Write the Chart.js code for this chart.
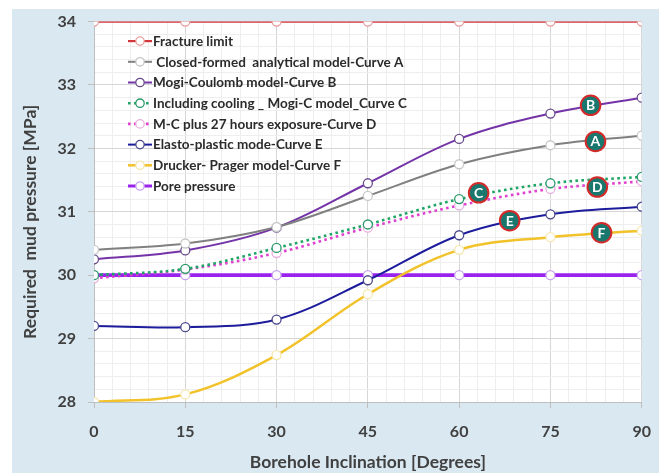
<!DOCTYPE html>
<html>
<head>
<meta charset="utf-8">
<script src="https://cdn.jsdelivr.net/npm/chart.js@4.4.1/dist/chart.umd.min.js"></script>
<style>
  html, body { margin: 0; padding: 0; background: #ffffff; }
  #wrap { width: 665px; height: 473px; position: relative; }
</style>
</head>
<body>
<div id="wrap"><canvas id="chart"></canvas></div>
<script>
// Borehole inclination (degrees) and required mud pressure (MPa) per model
const inclination   = [0, 15, 30, 45, 60, 75, 90];
const fractureLimit = [34, 34, 34, 34, 34, 34, 34];
const curveA        = [30.40, 30.50, 30.76, 31.25, 31.75, 32.05, 32.20];
const curveB        = [30.25, 30.39, 30.75, 31.45, 32.15, 32.55, 32.80];
const curveC        = [30.00, 30.10, 30.43, 30.80, 31.20, 31.45, 31.55];
const curveD        = [29.95, 30.09, 30.35, 30.75, 31.10, 31.36, 31.48];
const curveE        = [29.20, 29.18, 29.30, 29.92, 30.63, 30.96, 31.08];
const curveF        = [28.00, 28.12, 28.74, 29.70, 30.40, 30.60, 30.70];
const porePressure  = [30, 30, 30, 30, 30, 30, 30];

const seriesNames = [
  'Fracture limit',
  ' Closed-formed  analytical model-Curve A',
  'Mogi-Coulomb model-Curve B',
  'Including cooling _ Mogi-C model_Curve C',
  'M-C plus 27 hours exposure-Curve D',
  'Elasto-plastic mode-Curve E',
  'Drucker- Prager model-Curve F',
  'Pore pressure'
];

// Curve tags placed along the curves (inclination, pressure)
const tagLetters  = ['B', 'A', 'C', 'D', 'E', 'F'];
const tagInclin   = [81.6, 82.4, 63.2, 82.7, 68.3, 83.4];
const tagPressure = [32.68, 32.11, 31.30, 31.39, 30.86, 30.67];

const xMajorTicks = [0, 15, 30, 45, 60, 75, 90];
const yMajorTicks = [28, 29, 30, 31, 32, 33, 34];

const xTitle = 'Borehole Inclination [Degrees]';
const yTitle = 'Required  mud pressure [MPa]';

const FONT = 'Lato, "Open Sans", "DejaVu Sans", sans-serif';
const TEXT = '#404040';

const toXY = ys => inclination.map((x, i) => ({ x: x, y: ys[i] }));

function series(label, ys, color, pointColor, width, dash) {
  return {
    label: label,
    data: toXY(ys),
    borderColor: color,
    backgroundColor: color,
    borderWidth: width,
    borderDash: dash || [],
    tension: 0.35,
    pointRadius: 4.5,
    pointHoverRadius: 4.5,
    pointBackgroundColor: '#ffffff',
    pointBorderColor: pointColor,
    pointBorderWidth: 1.3,
    fill: false
  };
}

const datasets = [
  series(seriesNames[0], fractureLimit, '#d4353a', '#e8a0a0', 2.2),
  series(seriesNames[1], curveA, '#808080', '#c8c8c8', 2),
  series(seriesNames[2], curveB, '#7434a8', '#6a4c8c', 2),
  series(seriesNames[3], curveC, '#1fa565', '#2a9a6a', 2.6, [2.6, 3.4]),
  series(seriesNames[4], curveD, '#e040d0', '#e8b0e0', 2.6, [2.6, 3.4]),
  series(seriesNames[5], curveE, '#1c1c9c', '#4a4a8c', 2),
  series(seriesNames[6], curveF, '#f2c22a', '#f4e8b0', 2.5),
  series(seriesNames[7], porePressure, '#9a22ee', '#c8a0f0', 3.8)
];

// Round tags (teal disc, red ring) drawn as an extra scatter series
datasets.push({
  label: 'tags',
  type: 'scatter',
  data: tagInclin.map((x, i) => ({ x: x, y: tagPressure[i] })),
  pointRadius: 9.8,
  pointHoverRadius: 9.8,
  pointBackgroundColor: '#19776e',
  pointBorderColor: '#d42a2a',
  pointBorderWidth: 2,
  showLine: false,
  order: -1
});

const isMajor = (v, step) => Math.abs(v / step - Math.round(v / step)) < 1e-6;

// Light-blue frame behind the axes, white plot area, vertical axis title
const framePlugin = {
  id: 'frame',
  beforeDraw(chart) {
    const { ctx, chartArea: a } = chart;
    ctx.save();
    ctx.fillStyle = '#d9e8f1';
    ctx.fillRect(12, 9, 647, 464);
    ctx.fillStyle = '#ffffff';
    ctx.fillRect(a.left, a.top, a.right - a.left, a.bottom - a.top);
    ctx.translate(30, (a.top + a.bottom) / 2 + 10);
    ctx.rotate(-Math.PI / 2);
    ctx.fillStyle = TEXT;
    ctx.font = 'bold 17.5px ' + FONT;
    ctx.textAlign = 'center';
    ctx.textBaseline = 'middle';
    ctx.fillText(yTitle, 0, 0);
    ctx.restore();
  }
};

// Letters on the curve tags
const tagTextPlugin = {
  id: 'tagText',
  afterDatasetsDraw(chart) {
    const meta = chart.getDatasetMeta(chart.data.datasets.length - 1);
    const ctx = chart.ctx;
    ctx.save();
    ctx.fillStyle = '#ffffff';
    ctx.font = 'bold 14px ' + FONT;
    ctx.textAlign = 'center';
    ctx.textBaseline = 'middle';
    meta.data.forEach((pt, i) => ctx.fillText(tagLetters[i], pt.x, pt.y + 0.5));
    ctx.restore();
  }
};

// Series key drawn inside the upper-left of the plot
const keyPlugin = {
  id: 'seriesKey',
  afterDatasetsDraw(chart) {
    const ctx = chart.ctx;
    const a = chart.chartArea;
    const x0 = a.left + 34, x1 = a.left + 58, tx = a.left + 59;
    ctx.save();
    ctx.font = 'bold 13.5px ' + FONT;
    ctx.textBaseline = 'middle';
    ctx.textAlign = 'left';
    for (let i = 0; i < seriesNames.length; i++) {
      const ds = chart.data.datasets[i];
      const y = a.top + 19.5 + i * 20.7;
      ctx.strokeStyle = ds.borderColor;
      ctx.lineWidth = Math.min(ds.borderWidth, 3);
      ctx.setLineDash(ds.borderDash);
      ctx.beginPath();
      ctx.moveTo(x0, y);
      ctx.lineTo(x1, y);
      ctx.stroke();
      ctx.setLineDash([]);
      ctx.beginPath();
      ctx.arc((x0 + x1) / 2, y, 4.2, 0, Math.PI * 2);
      ctx.fillStyle = '#ffffff';
      ctx.fill();
      ctx.lineWidth = 1.3;
      ctx.strokeStyle = ds.pointBorderColor;
      ctx.stroke();
      ctx.fillStyle = '#2b2b2b';
      ctx.fillText(seriesNames[i], tx, y + 0.5);
    }
    ctx.restore();
  }
};

new Chart(document.getElementById('chart'), {
  type: 'line',
  data: { datasets: datasets },
  options: {
    responsive: true,
    maintainAspectRatio: false,
    animation: false,
    events: [],
    layout: { padding: { left: 12, top: 20, right: 22, bottom: 0 } },
    plugins: {
      legend: { display: false },
      tooltip: { enabled: false }
    },
    scales: {
      x: {
        type: 'linear',
        min: 0,
        max: 90,
        ticks: {
          stepSize: 3,
          autoSkip: false,
          maxRotation: 0,
          padding: 14,
          color: TEXT,
          font: { family: FONT, size: 16, weight: 'bold' },
          callback: v => (isMajor(v, 15) && xMajorTicks.includes(Math.round(v))) ? String(Math.round(v)) : ''
        },
        grid: {
          color: c => isMajor(c.tick.value, 15) ? '#d6d6d6' : '#eeeeee',
          tickColor: c => isMajor(c.tick.value, 15) ? '#bfbfbf' : 'rgba(0,0,0,0)',
          tickLength: 6,
          lineWidth: 1
        },
        border: { color: '#bfbfbf', width: 1 },
        title: {
          display: true,
          text: xTitle,
          color: TEXT,
          font: { family: FONT, size: 17.5, weight: 'bold' },
          padding: { top: 0, bottom: 0 }
        },
        afterFit: s => { s.height = 71; }
      },
      y: {
        min: 28,
        max: 34,
        ticks: {
          stepSize: 0.2,
          autoSkip: false,
          padding: 12,
          color: TEXT,
          font: { family: FONT, size: 16, weight: 'bold' },
          callback: v => {
            const r = Math.round(v);
            return (isMajor(v, 1) && yMajorTicks.includes(r)) ? String(r) : '';
          }
        },
        grid: {
          color: c => isMajor(c.tick.value, 1) ? '#d6d6d6' : '#eeeeee',
          tickColor: c => isMajor(c.tick.value, 1) ? '#bfbfbf' : 'rgba(0,0,0,0)',
          tickLength: 6,
          lineWidth: 1
        },
        border: { color: '#bfbfbf', width: 1 },
        title: { display: false },
        afterFit: s => { s.width = 82; }
      }
    }
  },
  plugins: [framePlugin, keyPlugin, tagTextPlugin]
});
</script>
</body>
</html>
